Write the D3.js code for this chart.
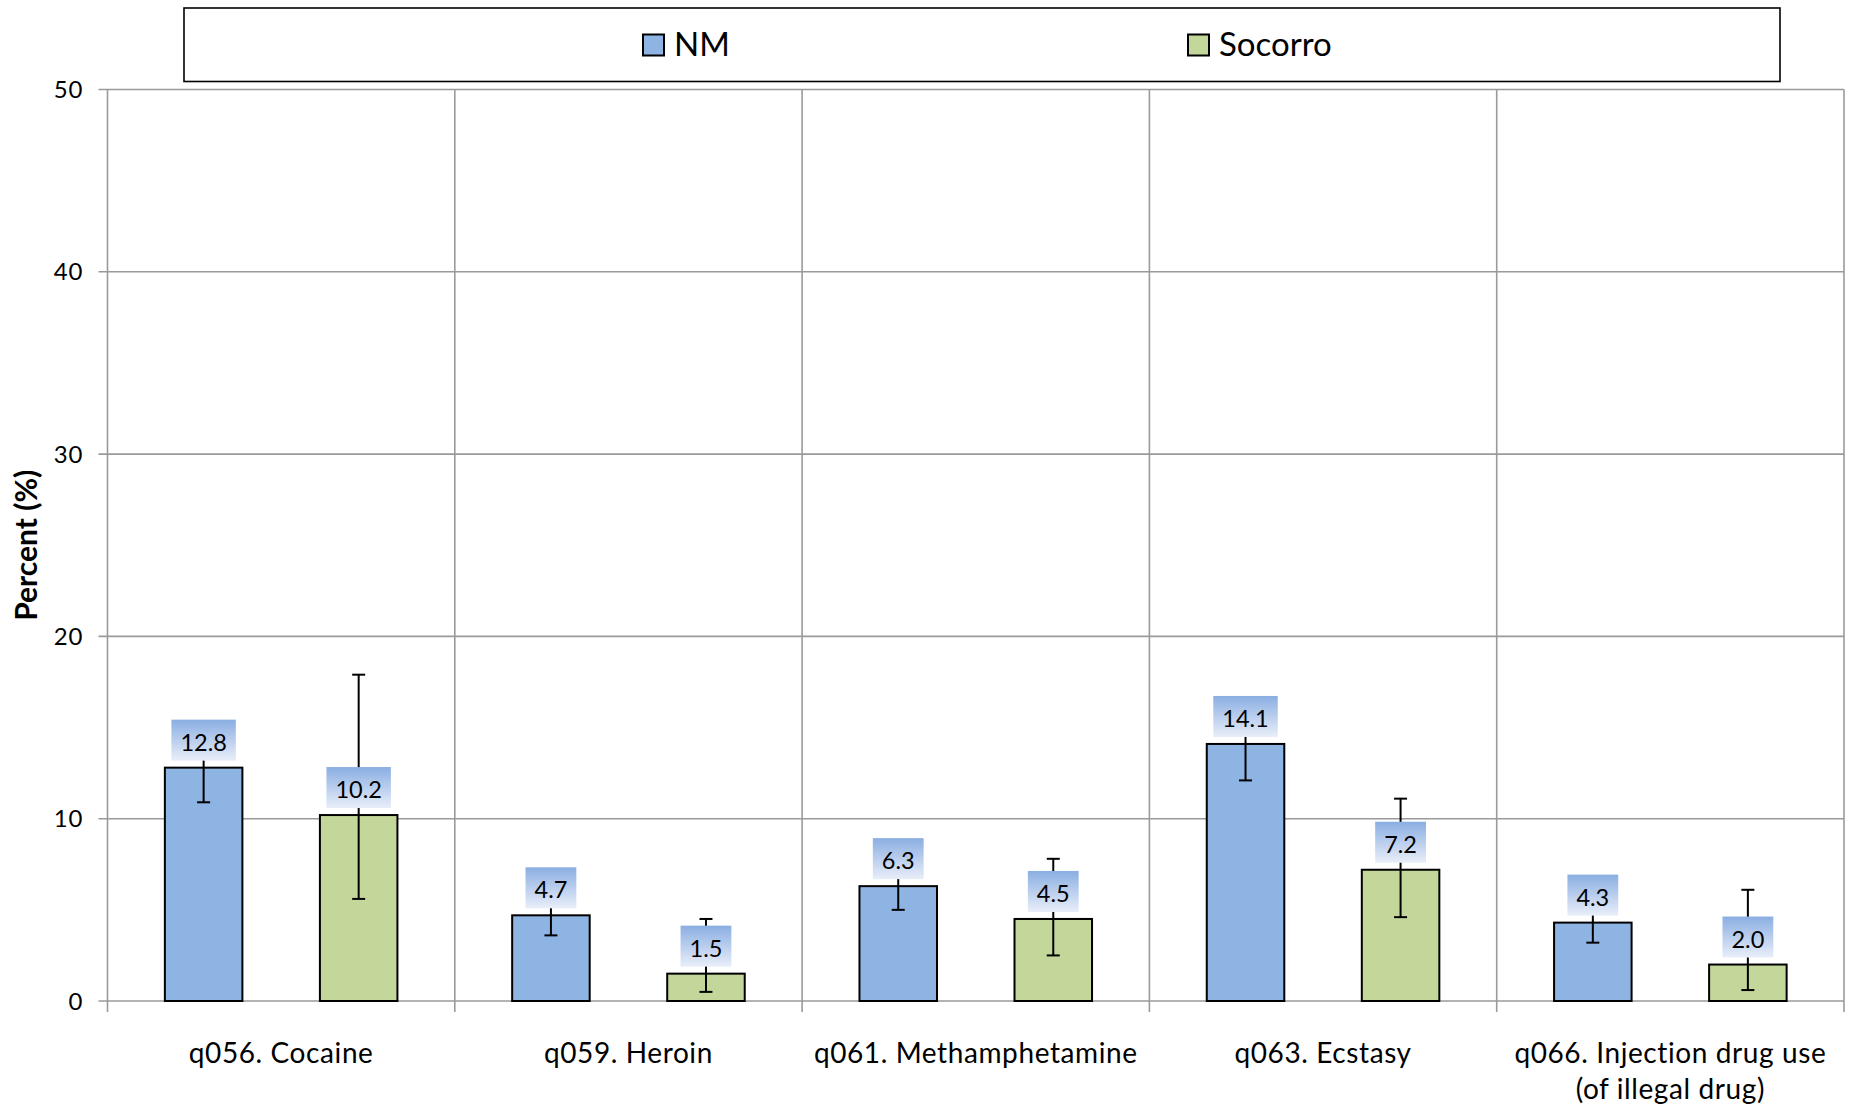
<!DOCTYPE html>
<html>
<head>
<meta charset="utf-8">
<script src="https://cdn.jsdelivr.net/npm/d3@7"></script>
<style>
  html, body { margin: 0; padding: 0; background: #fff; }
  svg { display: block; }
</style>
</head>
<body>
<svg id="chart" width="1851" height="1109"></svg>
<script>
// ---- Data ----
const categories = ["q056. Cocaine", "q059. Heroin", "q061. Methamphetamine", "q063. Ecstasy", "q066. Injection drug use|(of illegal drug)"];
const seriesNames = ["NM", "Socorro"];
const nmValues = [12.8, 4.7, 6.3, 14.1, 4.3];
const nmLower = [10.9, 3.6, 5.0, 12.1, 3.2];
const nmUpper = [14.7, 5.8, 7.6, 16.1, 5.4];
const socorroValues = [10.2, 1.5, 4.5, 7.2, 2.0];
const socorroLower = [5.6, 0.5, 2.5, 4.6, 0.6];
const socorroUpper = [17.9, 4.5, 7.8, 11.1, 6.1];
const yTicks = [0, 10, 20, 30, 40, 50];

const colors = { NM: "#8eb4e3", Socorro: "#c4d79b" };

const rows = [];
categories.forEach((c, i) => {
  rows.push({ cat: c, series: "NM", v: nmValues[i], lo: nmLower[i], hi: nmUpper[i] });
  rows.push({ cat: c, series: "Socorro", v: socorroValues[i], lo: socorroLower[i], hi: socorroUpper[i] });
});

// ---- Layout ----
const svg = d3.select("#chart");
const plot = { left: 107.5, right: 1844, top: 89.5, bottom: 1001 };
const gridColor = "#9a9a9a";

const x = d3.scaleBand().domain(categories).range([plot.left, plot.right]).padding(0);
const xs = d3.scaleBand().domain(seriesNames).range([0, x.bandwidth()]).paddingInner(0.5).paddingOuter(0.37);
const y = d3.scaleLinear().domain([0, 50]).range([plot.bottom, plot.top]);

// gradient for labels
const defs = svg.append("defs");
const grad = defs.append("linearGradient").attr("id", "lblGrad").attr("x1", 0).attr("y1", 0).attr("x2", 0).attr("y2", 1);
grad.append("stop").attr("offset", "0%").attr("stop-color", "#8aaee2");
grad.append("stop").attr("offset", "100%").attr("stop-color", "#e9eef9");

// horizontal gridlines
svg.append("g").selectAll("line").data(yTicks).join("line")
  .attr("x1", plot.left - 9).attr("x2", plot.right)
  .attr("y1", d => y(d)).attr("y2", d => y(d))
  .attr("stroke", gridColor).attr("stroke-width", 1.6);

// vertical gridlines (category boundaries + axis + right edge)
const boundaries = categories.map(c => x(c)).concat([plot.right]);
svg.append("g").selectAll("line").data(boundaries).join("line")
  .attr("x1", d => d).attr("x2", d => d)
  .attr("y1", plot.top).attr("y2", plot.bottom + 11)
  .attr("stroke", gridColor).attr("stroke-width", 1.6);

// y tick labels
svg.append("g").selectAll("text").data(yTicks).join("text")
  .attr("x", plot.left - 24).attr("y", d => y(d) + 8.5)
  .attr("text-anchor", "end")
  .attr("font-family", "Lato, sans-serif").attr("font-size", 24).attr("letter-spacing", 1).attr("fill", "#000")
  .text(d => d);

// y axis title
svg.append("text")
  .attr("transform", `translate(37, ${(plot.top + plot.bottom) / 2}) rotate(-90)`)
  .attr("text-anchor", "middle")
  .attr("font-family", "Lato, sans-serif").attr("font-weight", "bold").attr("font-size", 30)
  .text("Percent (%)");

// bars
const barG = svg.append("g");
barG.selectAll("rect").data(rows).join("rect")
  .attr("x", d => x(d.cat) + xs(d.series))
  .attr("y", d => y(d.v))
  .attr("width", xs.bandwidth())
  .attr("height", d => y(0) - y(d.v))
  .attr("fill", d => colors[d.series])
  .attr("stroke", "#000").attr("stroke-width", 2);

// error bars
const errG = svg.append("g").attr("stroke", "#000").attr("stroke-width", 2);
rows.forEach(d => {
  const cx = x(d.cat) + xs(d.series) + xs.bandwidth() / 2;
  errG.append("line").attr("x1", cx).attr("x2", cx).attr("y1", y(d.lo)).attr("y2", y(d.hi));
  errG.append("line").attr("x1", cx - 6.5).attr("x2", cx + 6.5).attr("y1", y(d.lo)).attr("y2", y(d.lo));
  errG.append("line").attr("x1", cx - 6.5).attr("x2", cx + 6.5).attr("y1", y(d.hi)).attr("y2", y(d.hi));
});

// data labels
const lblG = svg.append("g");
rows.forEach(d => {
  const cx = x(d.cat) + xs(d.series) + xs.bandwidth() / 2;
  const boxH = 41;
  const bottom = y(d.v) - 7;
  const g = lblG.append("g");
  const rect = g.append("rect").attr("fill", "url(#lblGrad)");
  const t = g.append("text")
    .attr("x", cx).attr("y", bottom - boxH + 31)
    .attr("text-anchor", "middle")
    .attr("font-family", "Lato, sans-serif").attr("font-size", 23.5).attr("fill", "#000")
    .text(d.v.toFixed(1));
  const w = t.node().getComputedTextLength() + 18;
  rect.attr("x", cx - w / 2).attr("y", bottom - boxH).attr("width", w).attr("height", boxH);
});

// x category labels
const xl = svg.append("g");
categories.forEach(c => {
  const lines = c.split("|");
  const t = xl.append("text")
    .attr("text-anchor", "middle")
    .attr("font-family", "Lato, sans-serif").attr("font-size", 28).attr("letter-spacing", 0.6).attr("fill", "#000");
  lines.forEach((ln, i) => {
    t.append("tspan").attr("x", x(c) + x.bandwidth() / 2).attr("y", 1063 + i * 36).text(ln);
  });
});

// legend
const leg = svg.append("g");
leg.append("rect").attr("x", 184).attr("y", 8).attr("width", 1596).attr("height", 73.5)
  .attr("fill", "#fff").attr("stroke", "#000").attr("stroke-width", 1.6);
const legX = { NM: 643, Socorro: 1188 };
seriesNames.forEach(s => {
  leg.append("rect").attr("x", legX[s]).attr("y", 34.5).attr("width", 21).attr("height", 21)
    .attr("fill", colors[s]).attr("stroke", "#000").attr("stroke-width", 2);
  leg.append("text").attr("x", legX[s] + 31).attr("y", 56)
    .attr("font-family", "Lato, sans-serif").attr("font-size", 33).attr("fill", "#000")
    .text(s);
});
</script>
</body>
</html>
